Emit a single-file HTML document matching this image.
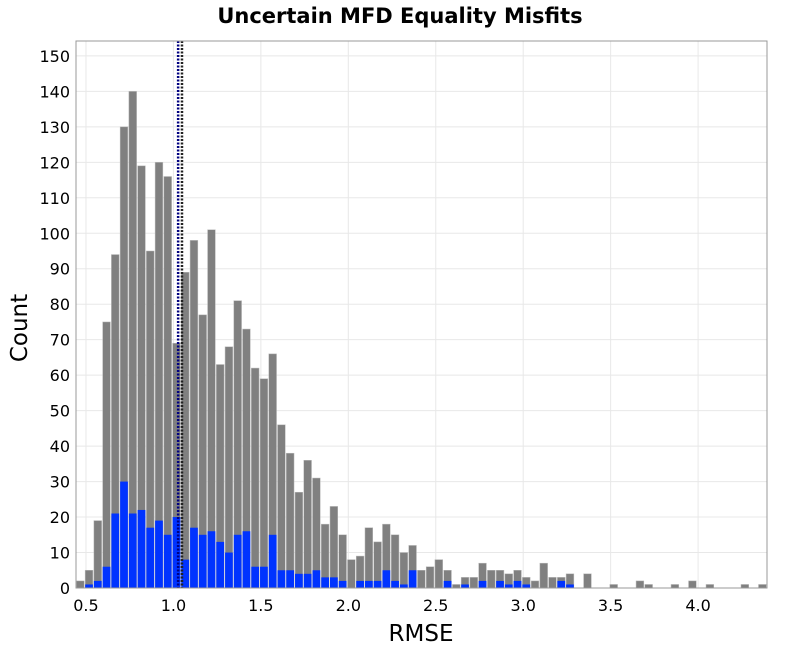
<!DOCTYPE html>
<html><head><meta charset="utf-8"><style>
body{margin:0;background:#fff;}
svg text{font-family:"DejaVu Sans","Liberation Sans",sans-serif;}
</style></head><body>
<svg id="chart" width="800" height="650" xmlns="http://www.w3.org/2000/svg">
<text x="400" y="23" text-anchor="middle" font-size="21" font-weight="bold">Uncertain MFD Equality Misfits</text>
<g id="grid"></g>
<g id="bars"></g>
<g id="vlines"></g>
<rect x="76" y="41" width="691" height="547" fill="none" stroke="#999" stroke-width="1"/>
<g id="yticks"></g>
<g id="xticks"></g>
<text x="27" y="328" text-anchor="middle" font-size="23" transform="rotate(-90 27 328)">Count</text>
<text x="421" y="641" text-anchor="middle" font-size="23">RMSE</text>
</svg>
<script>
const binStart = 0.4425;
const binWidth = 0.05;
const totalCounts = [2,5,19,75,94,130,140,119,95,120,116,69,89,98,77,101,63,68,81,73,62,59,66,
46,38,27,36,31,18,23,15,8,9,17,13,18,15,10,12,5,6,8,5,1,3,3,7,5,5,4,
5,3,2,7,3,3,4,0,4,0,0,1,0,0,2,1,0,0,1,0,2,0,1,0,0,0,1,0,1];
const subsetCounts = [0,1,2,6,21,30,21,22,17,19,15,20,8,17,15,16,13,10,15,16,6,6,15,
5,5,4,4,5,3,3,2,0,2,2,2,5,2,1,5,0,0,0,2,0,1,0,2,0,2,1,
2,1,0,0,0,2,1,0,0,0,0,0,0,0,0,0,0,0,0,0,0,0,0,0,0,0,0,0,0];
const xTicks = [0.5,1.0,1.5,2.0,2.5,3.0,3.5,4.0];
const yTicks = [0,10,20,30,40,50,60,70,80,90,100,110,120,130,140,150];
const refLines = [1.027, 1.049];
const refColors = ["#000080","#222222"];
const X0=76,X1=767,Y0=588,Y1=41, xmin=0.443, xmax=4.394, ymin=0, ymax=154.2;
const sx=v=>X0+(v-xmin)/(xmax-xmin)*(X1-X0);
const sy=v=>Y0-(v-ymin)/(ymax-ymin)*(Y0-Y1);
const NS="http://www.w3.org/2000/svg";
function mk(tag,attrs,parent){const e=document.createElementNS(NS,tag);for(const k in attrs)e.setAttribute(k,attrs[k]);parent.appendChild(e);return e;}
const grid=document.getElementById('grid'),bars=document.getElementById('bars'),yt=document.getElementById('yticks'),xt=document.getElementById('xticks'),vl=document.getElementById('vlines');
yTicks.forEach(v=>{
  const l=mk('line',{x1:X0,x2:X1,y1:sy(v),y2:sy(v),stroke:'#e8e8e8'},grid);
  
  
  const t=mk('text',{x:70,y:sy(v)+6,'text-anchor':'end','font-size':16},yt);
  t.textContent=v;
  
  
});
xTicks.forEach(v=>{
  const l=mk('line',{x1:sx(v),x2:sx(v),y1:Y1,y2:Y0,stroke:'#e8e8e8'},grid);
  
  
  const t=mk('text',{x:sx(v),y:611,'text-anchor':'middle','font-size':16},xt);
  t.textContent=v.toFixed(1);
  
  
});
totalCounts.forEach((c,i)=>{
  const a=sx(binStart+i*binWidth), b=sx(binStart+(i+1)*binWidth);
  if(c>0){
    const r=mk('rect',{x:a+0.5,y:sy(c),width:b-a-1,height:Y0-sy(c),fill:'#808080',stroke:'#bbb','stroke-width':0.5},bars);
    
    
  }
  const s=subsetCounts[i];
  if(s>0){
    const r2=mk('rect',{x:a+0.5,y:sy(s),width:b-a-1,height:Y0-sy(s),fill:'#0033ff'},bars);
    
    
  }
});
refLines.forEach((v,i)=>{
  const l=mk('line',{x1:sx(v),x2:sx(v),y1:Y1,y2:Y0,stroke:refColors[i],'stroke-width':2.5,'stroke-dasharray':'2,1.5'},vl);
  
  
});
</script>
</body></html>
